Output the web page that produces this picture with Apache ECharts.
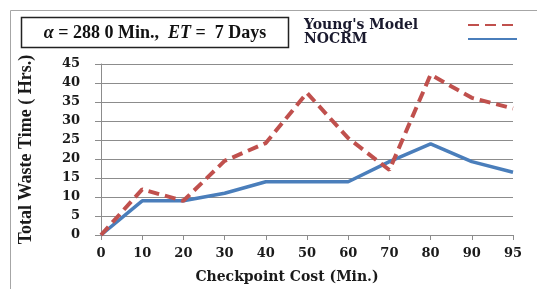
<!DOCTYPE html>
<html>
<head>
<meta charset="utf-8">
<script src="https://cdn.jsdelivr.net/npm/echarts@6/dist/echarts.min.js"></script>
<style>
  html, body { margin: 0; padding: 0; background: #fff; }
  #main { width: 537px; height: 289px; }
</style>
</head>
<body>
<div id="main"></div>
<script>
// checkpoint cost (min.) on x, waste time (hrs.) on y
var costs = ['0', '10', '20', '30', '40', '50', '60', '70', '80', '90', '95'];
var youngData = [0, 12, 9, 19.5, 24.2, 37.4, 25.5, 17.1, 42.2, 36.1, 33.3];
var nocrmData = [0, 9, 9, 11, 14, 14, 14, 19.3, 24, 19.3, 16.5];
var seriesNames = ["Young's Model", 'NOCRM'];

var serif = 'Liberation Serif';
var wideSerif = 'DejaVu Serif';
var chart = echarts.init(document.getElementById('main'));

var option = {
    backgroundColor: '#fff',
    animation: false,
    grid: {
        left: 101,
        right: 24,
        top: 64,
        bottom: 51
    },
    graphic: [
        // outer chart frame
        {
            type: 'rect',
            shape: { x: 10.5, y: 10.5, width: 540, height: 300 },
            style: { fill: 'none', stroke: '#a6a6a6', lineWidth: 1 }
        },
        // parameter box
        {
            type: 'rect',
            shape: { x: 21.5, y: 17.5, width: 267, height: 30 },
            style: { fill: '#fff', stroke: '#222', lineWidth: 1.5 }
        },
        {
            type: 'text',
            style: {
                text: '{i|α}{b| = 288 0 Min.,  }{i|ET}{b| =  7 Days}',
                x: 155, y: 33,
                align: 'center',
                verticalAlign: 'middle',
                rich: {
                    i: { fontFamily: serif, fontStyle: 'italic', fontWeight: 'bold', fontSize: 18, fill: '#111' },
                    b: { fontFamily: serif, fontWeight: 'bold', fontSize: 18, fill: '#111' }
                }
            }
        }
    ],
    legend: {
        orient: 'vertical',
        left: 299,
        top: 13,
        align: 'right',
        itemGap: 0,
        itemWidth: 49,
        itemHeight: 15,
        data: seriesNames,
        itemStyle: { opacity: 0 },
        formatter: '{t|{name}}',
        textStyle: {
            rich: {
                t: {
                    fontFamily: wideSerif,
                    fontWeight: 'bold',
                    fontSize: 14,
                    color: '#1a1a2e',
                    width: 159,
                    align: 'left',
                    lineHeight: 14
                }
            }
        }
    },
    xAxis: {
        type: 'category',
        boundaryGap: false,
        data: costs,
        name: 'Checkpoint Cost (Min.)',
        nameLocation: 'middle',
        nameGap: 35,
        nameTextStyle: {
            fontFamily: wideSerif,
            fontWeight: 'bold',
            fontSize: 14,
            color: '#1a1a1a',
            padding: [0, 40, 0, 0]
        },
        axisLine: { lineStyle: { color: '#8c8c8c', width: 1 } },
        axisTick: { show: true, length: 5, lineStyle: { color: '#8c8c8c' } },
        axisLabel: {
            margin: 12,
            fontFamily: wideSerif,
            fontWeight: 'bold',
            fontSize: 13,
            color: '#1a1a1a'
        }
    },
    yAxis: {
        type: 'value',
        min: 0,
        max: 45,
        interval: 5,
        name: 'Total Waste Time ( Hrs.)',
        nameLocation: 'middle',
        nameGap: 66,
        nameTextStyle: {
            fontFamily: serif,
            fontWeight: 'bold',
            fontSize: 18,
            color: '#1a1a1a'
        },
        axisLine: { show: true, lineStyle: { color: '#8c8c8c', width: 1 } },
        axisTick: { show: true, length: 6, lineStyle: { color: '#8c8c8c' } },
        splitLine: { lineStyle: { color: '#8c8c8c', width: 1 } },
        axisLabel: {
            margin: 21,
            fontFamily: wideSerif,
            fontWeight: 'bold',
            fontSize: 13,
            color: '#1a1a1a'
        }
    },
    series: [
        {
            name: seriesNames[0],
            type: 'line',
            data: youngData,
            symbol: 'none',
            z: 3,
            lineStyle: { color: '#c0504d', width: 4, type: [11, 6] },
            itemStyle: { color: '#c0504d' }
        },
        {
            name: seriesNames[1],
            type: 'line',
            data: nocrmData,
            symbol: 'none',
            z: 2,
            lineStyle: { color: '#4a7ebb', width: 3.5 },
            itemStyle: { color: '#4a7ebb' }
        }
    ]
};
chart.setOption(option);
</script>
</body>
</html>
